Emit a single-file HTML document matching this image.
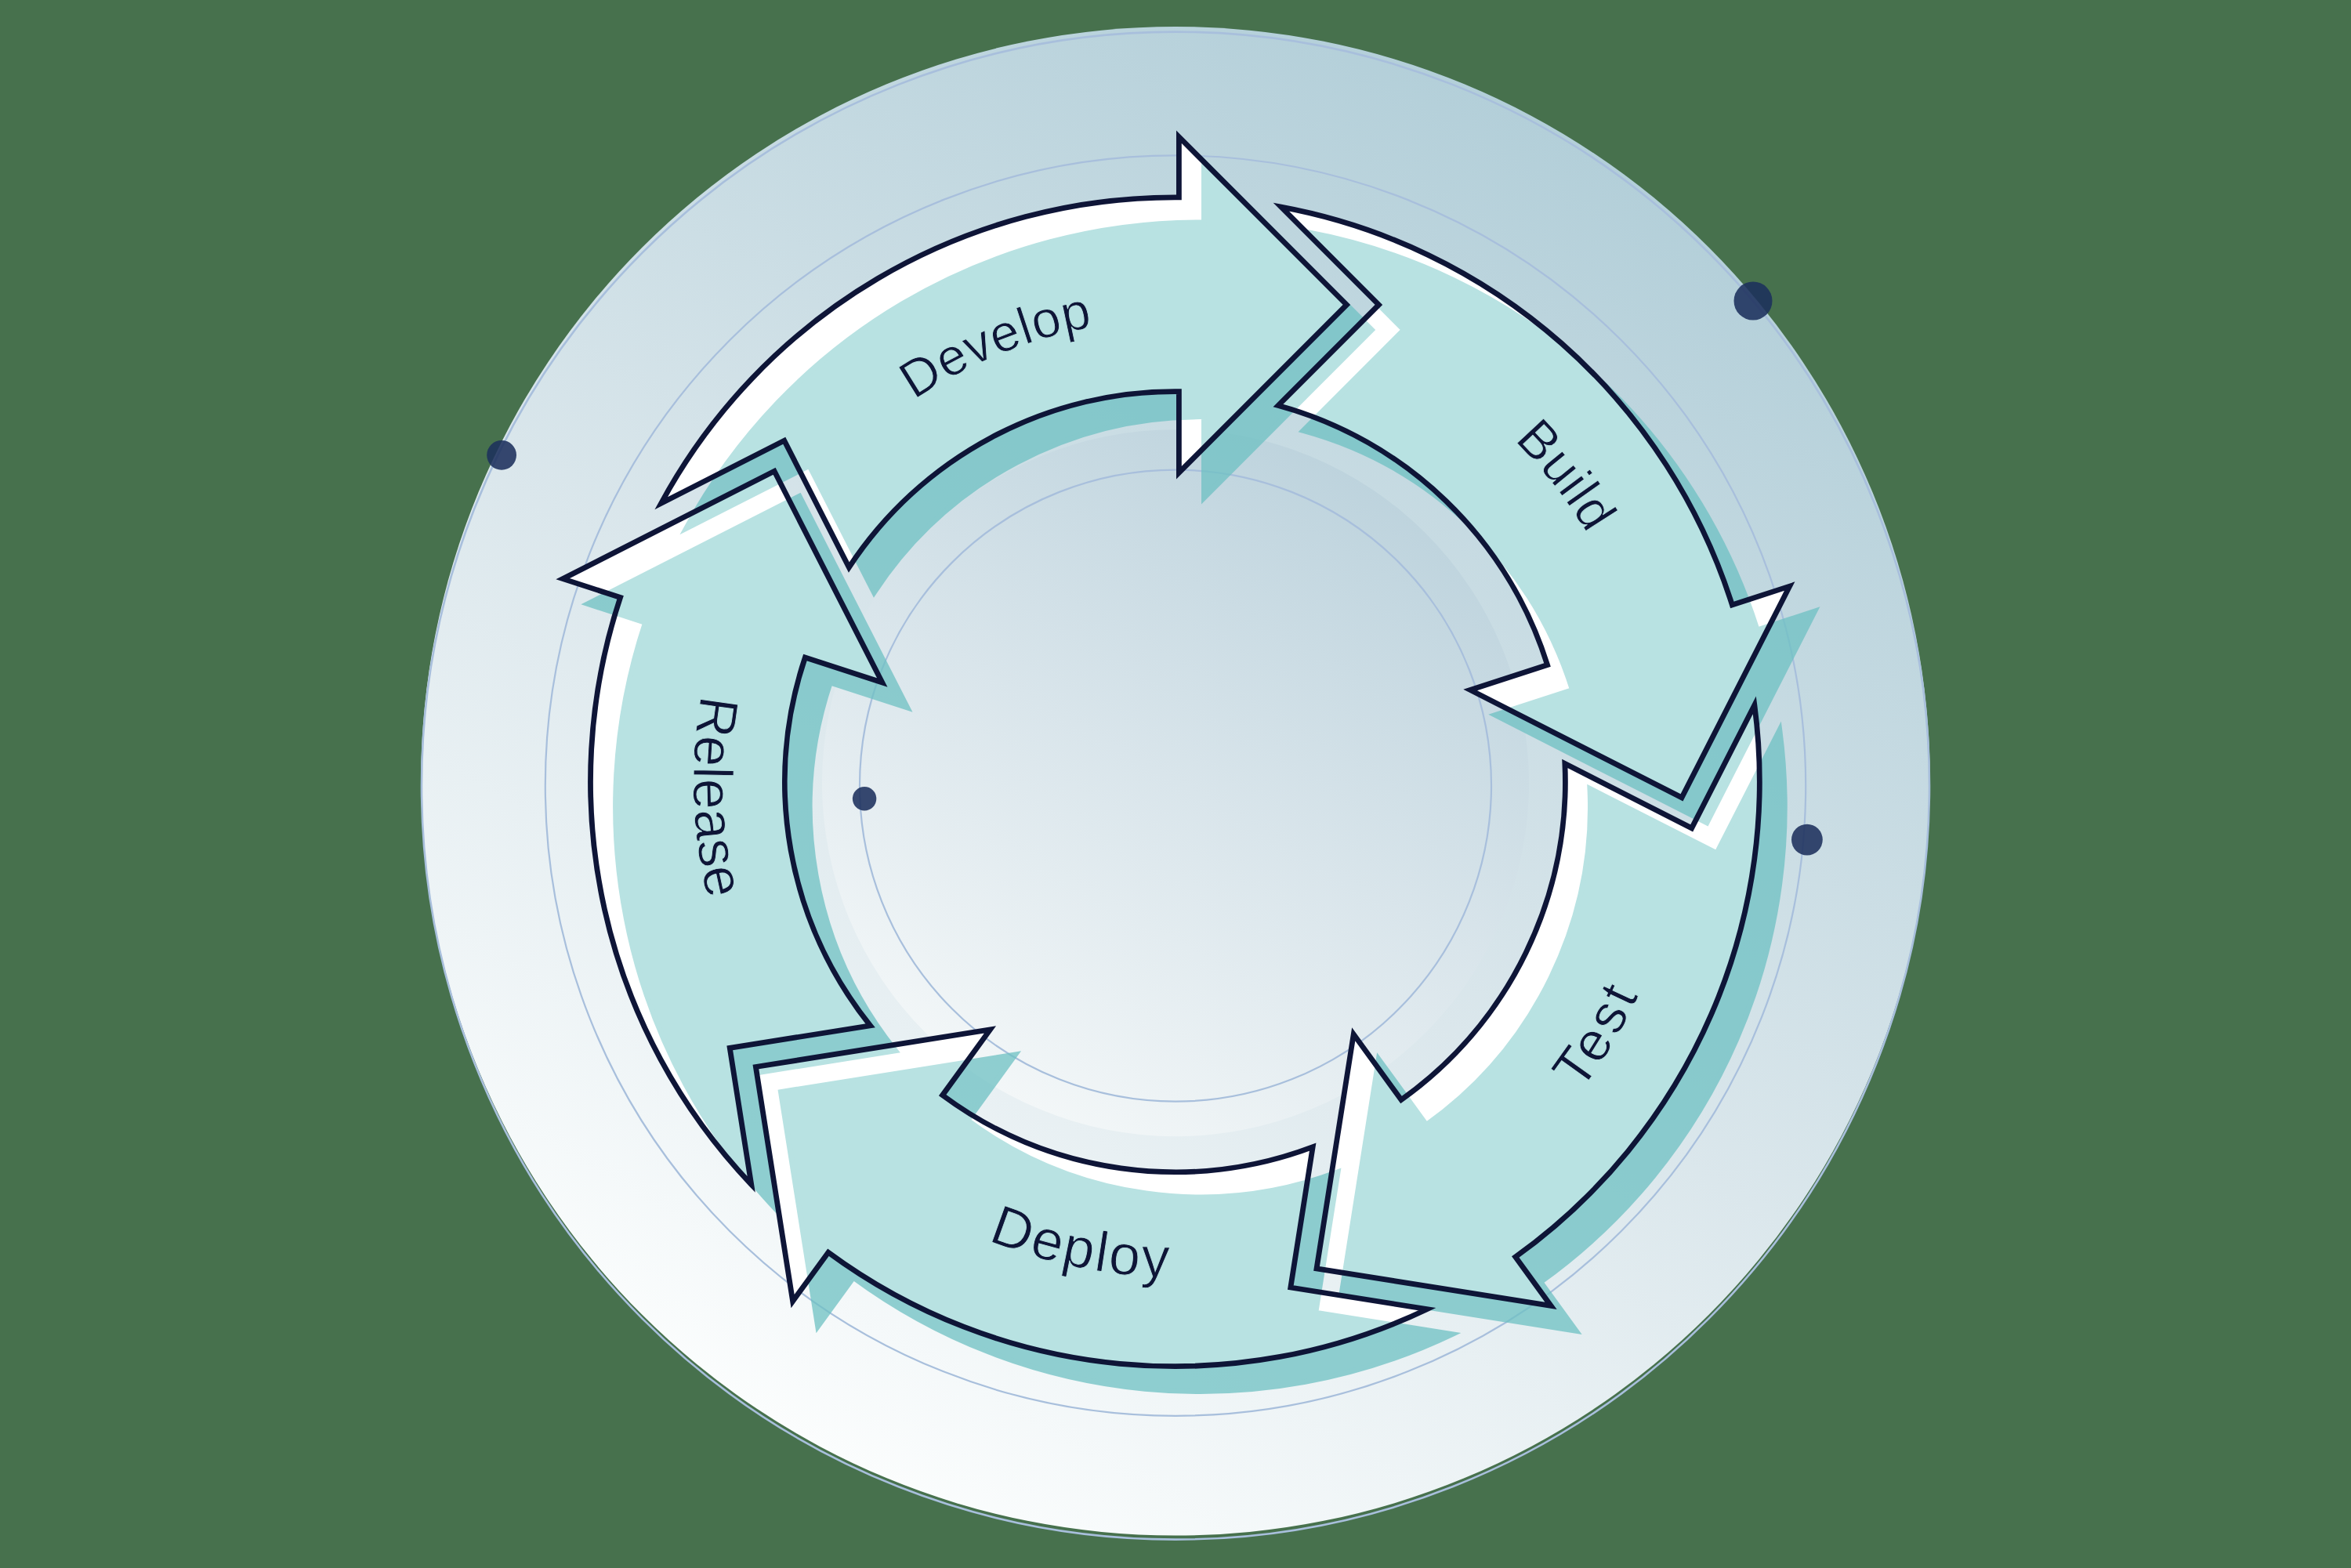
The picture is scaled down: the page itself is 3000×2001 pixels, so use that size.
<!DOCTYPE html><html><head><meta charset="utf-8"><style>html,body{margin:0;padding:0;background:#47714d;}svg{display:block}</style></head><body>
<svg width="3000" height="2001" viewBox="0 0 3000 2001">
<defs>
<linearGradient id="bg" gradientUnits="userSpaceOnUse" x1="1018" y1="1835" x2="1982" y2="165"><stop offset="0" stop-color="#fbfdfd"/><stop offset="0.45" stop-color="#dbe7ec"/><stop offset="1" stop-color="#b3cfd9"/></linearGradient>
<linearGradient id="disc" gradientUnits="userSpaceOnUse" x1="1270" y1="1395" x2="1730" y2="600"><stop offset="0" stop-color="#f3f7f8"/><stop offset="0.5" stop-color="#d9e5eb"/><stop offset="1" stop-color="#bdd3dd"/></linearGradient>
<clipPath id="orig">
<path d="M843.63 642.27 A745.9 745.9 0 0 1 1504.4 251.82 L1504.4 174.7 L1718.4 388.95 L1504.4 603.2 L1504.4 499.73 A498 498 0 0 0 1083.32 724.05 L1000.79 562.31 Z"/>
<path d="M1634.79 264.19 A745.9 745.9 0 0 1 2210.32 771.96 L2283.66 748.13 L2146.03 1017.87 L1876.14 880.55 L1974.55 848.57 A498 498 0 0 0 1631.08 517.42 L1759.4 388.95 Z"/>
<path d="M2238.85 899.79 A745.9 745.9 0 0 1 1933.77 1604.07 L1979.1 1666.46 L1680.04 1618.91 L1727.24 1319.8 L1788.06 1403.51 A498 498 0 0 0 1996.86 974.52 L2158.7 1056.86 Z"/>
<path d="M1821.02 1670.7 A745.9 745.9 0 0 1 1056.94 1598.19 L1011.61 1660.58 L964.41 1361.46 L1263.47 1313.92 L1202.65 1397.63 A498 498 0 0 0 1675.17 1463.65 L1646.87 1643.01 Z"/>
<path d="M958.72 1511.55 A745.9 745.9 0 0 1 791.57 762.45 L718.23 738.62 L988.12 601.3 L1125.75 871.04 L1027.34 839.06 A498 498 0 0 0 1110.57 1308.85 L931.24 1337.36 Z"/>
</clipPath>
<clipPath id="circ"><circle cx="1500" cy="996.8" r="962.8"/></clipPath>
<path id="tp0" d="M953.33 1221.1 A590 590 0 0 1 2045.47 774.3"/>
<path id="tp1" d="M1120.79 514.32 A614 614 0 0 1 1878.01 1481.08"/>
<path id="tp2" d="M1165.06 1557.45 A652 652 0 0 0 1833.74 437.95"/>
<path id="tp3" d="M879.76 873.32 A632 632 0 0 0 2119.04 1122.08"/>
<path id="tp4" d="M1478.92 383.54 A614.5 614.5 0 0 0 1519.88 1611.86"/>
</defs>
<rect width="3000" height="2001" fill="#47714d"/>
<circle cx="1500" cy="996.8" r="962.8" fill="url(#bg)"/>
<circle cx="1500" cy="999.2" r="451" fill="url(#disc)"/>
<g fill="none" stroke="#a8bfdc" stroke-width="2.2">
<circle cx="1500" cy="1002.6" r="962" stroke-width="2.6"/>
<circle cx="1500" cy="1002.6" r="804.2"/>
<circle cx="1500" cy="1002.6" r="403"/>
</g>
<circle cx="2237" cy="384" r="24.5" fill="#1c305c" fill-opacity="0.88"/>
<circle cx="640.1" cy="580.8" r="18.9" fill="#1c305c" fill-opacity="0.88"/>
<circle cx="2305.9" cy="1071.6" r="19.9" fill="#1c305c" fill-opacity="0.88"/>
<circle cx="1103.1" cy="1019.3" r="15.2" fill="#1c305c" fill-opacity="0.88"/>
<g transform="translate(32 32)" opacity="0.75"><g fill="rgb(110,193,195)" stroke="rgb(110,193,195)" stroke-width="6.8" stroke-linejoin="miter" stroke-miterlimit="10">
<path d="M843.63 642.27 A745.9 745.9 0 0 1 1504.4 251.82 L1504.4 174.7 L1718.4 388.95 L1504.4 603.2 L1504.4 499.73 A498 498 0 0 0 1083.32 724.05 L1000.79 562.31 Z"/>
<path d="M1634.79 264.19 A745.9 745.9 0 0 1 2210.32 771.96 L2283.66 748.13 L2146.03 1017.87 L1876.14 880.55 L1974.55 848.57 A498 498 0 0 0 1631.08 517.42 L1759.4 388.95 Z"/>
<path d="M2238.85 899.79 A745.9 745.9 0 0 1 1933.77 1604.07 L1979.1 1666.46 L1680.04 1618.91 L1727.24 1319.8 L1788.06 1403.51 A498 498 0 0 0 1996.86 974.52 L2158.7 1056.86 Z"/>
<path d="M1821.02 1670.7 A745.9 745.9 0 0 1 1056.94 1598.19 L1011.61 1660.58 L964.41 1361.46 L1263.47 1313.92 L1202.65 1397.63 A498 498 0 0 0 1675.17 1463.65 L1646.87 1643.01 Z"/>
<path d="M958.72 1511.55 A745.9 745.9 0 0 1 791.57 762.45 L718.23 738.62 L988.12 601.3 L1125.75 871.04 L1027.34 839.06 A498 498 0 0 0 1110.57 1308.85 L931.24 1337.36 Z"/>
</g></g>
<g fill="#ffffff">
<path d="M843.63 642.27 A745.9 745.9 0 0 1 1504.4 251.82 L1504.4 174.7 L1718.4 388.95 L1504.4 603.2 L1504.4 499.73 A498 498 0 0 0 1083.32 724.05 L1000.79 562.31 Z"/>
<path d="M1634.79 264.19 A745.9 745.9 0 0 1 2210.32 771.96 L2283.66 748.13 L2146.03 1017.87 L1876.14 880.55 L1974.55 848.57 A498 498 0 0 0 1631.08 517.42 L1759.4 388.95 Z"/>
<path d="M2238.85 899.79 A745.9 745.9 0 0 1 1933.77 1604.07 L1979.1 1666.46 L1680.04 1618.91 L1727.24 1319.8 L1788.06 1403.51 A498 498 0 0 0 1996.86 974.52 L2158.7 1056.86 Z"/>
<path d="M1821.02 1670.7 A745.9 745.9 0 0 1 1056.94 1598.19 L1011.61 1660.58 L964.41 1361.46 L1263.47 1313.92 L1202.65 1397.63 A498 498 0 0 0 1675.17 1463.65 L1646.87 1643.01 Z"/>
<path d="M958.72 1511.55 A745.9 745.9 0 0 1 791.57 762.45 L718.23 738.62 L988.12 601.3 L1125.75 871.04 L1027.34 839.06 A498 498 0 0 0 1110.57 1308.85 L931.24 1337.36 Z"/>
</g>
<g clip-path="url(#orig)"><g transform="translate(32 32)" fill="#b8e2e2" stroke="#b8e2e2" stroke-width="6.8" stroke-linejoin="miter" stroke-miterlimit="10">
<path d="M843.63 642.27 A745.9 745.9 0 0 1 1504.4 251.82 L1504.4 174.7 L1718.4 388.95 L1504.4 603.2 L1504.4 499.73 A498 498 0 0 0 1083.32 724.05 L1000.79 562.31 Z"/>
<path d="M1634.79 264.19 A745.9 745.9 0 0 1 2210.32 771.96 L2283.66 748.13 L2146.03 1017.87 L1876.14 880.55 L1974.55 848.57 A498 498 0 0 0 1631.08 517.42 L1759.4 388.95 Z"/>
<path d="M2238.85 899.79 A745.9 745.9 0 0 1 1933.77 1604.07 L1979.1 1666.46 L1680.04 1618.91 L1727.24 1319.8 L1788.06 1403.51 A498 498 0 0 0 1996.86 974.52 L2158.7 1056.86 Z"/>
<path d="M1821.02 1670.7 A745.9 745.9 0 0 1 1056.94 1598.19 L1011.61 1660.58 L964.41 1361.46 L1263.47 1313.92 L1202.65 1397.63 A498 498 0 0 0 1675.17 1463.65 L1646.87 1643.01 Z"/>
<path d="M958.72 1511.55 A745.9 745.9 0 0 1 791.57 762.45 L718.23 738.62 L988.12 601.3 L1125.75 871.04 L1027.34 839.06 A498 498 0 0 0 1110.57 1308.85 L931.24 1337.36 Z"/>
</g></g>
<g fill="none" stroke="#0e1537" stroke-width="6.8" stroke-linejoin="miter" stroke-miterlimit="10">
<path d="M843.63 642.27 A745.9 745.9 0 0 1 1504.4 251.82 L1504.4 174.7 L1718.4 388.95 L1504.4 603.2 L1504.4 499.73 A498 498 0 0 0 1083.32 724.05 L1000.79 562.31 Z"/>
<path d="M1634.79 264.19 A745.9 745.9 0 0 1 2210.32 771.96 L2283.66 748.13 L2146.03 1017.87 L1876.14 880.55 L1974.55 848.57 A498 498 0 0 0 1631.08 517.42 L1759.4 388.95 Z"/>
<path d="M2238.85 899.79 A745.9 745.9 0 0 1 1933.77 1604.07 L1979.1 1666.46 L1680.04 1618.91 L1727.24 1319.8 L1788.06 1403.51 A498 498 0 0 0 1996.86 974.52 L2158.7 1056.86 Z"/>
<path d="M1821.02 1670.7 A745.9 745.9 0 0 1 1056.94 1598.19 L1011.61 1660.58 L964.41 1361.46 L1263.47 1313.92 L1202.65 1397.63 A498 498 0 0 0 1675.17 1463.65 L1646.87 1643.01 Z"/>
<path d="M958.72 1511.55 A745.9 745.9 0 0 1 791.57 762.45 L718.23 738.62 L988.12 601.3 L1125.75 871.04 L1027.34 839.06 A498 498 0 0 0 1110.57 1308.85 L931.24 1337.36 Z"/>
</g>
<g font-family="Liberation Sans, sans-serif" fill="#0e1537" stroke="#b8e2e2" stroke-width="0.9">
<text font-size="66.5" letter-spacing="0.74"><textPath href="#tp0" startOffset="50%" text-anchor="middle">Develop</textPath></text>
<text font-size="67.3" letter-spacing="0.8"><textPath href="#tp1" startOffset="50%" text-anchor="middle">Build</textPath></text>
<text font-size="70" letter-spacing="5.1"><textPath href="#tp2" startOffset="50%" text-anchor="middle">Test</textPath></text>
<text font-size="72" letter-spacing="2.65"><textPath href="#tp3" startOffset="50%" text-anchor="middle">Deploy</textPath></text>
<text font-size="70.5" letter-spacing="0.8"><textPath href="#tp4" startOffset="50%" text-anchor="middle">Release</textPath></text>
</g>
</svg></body></html>
